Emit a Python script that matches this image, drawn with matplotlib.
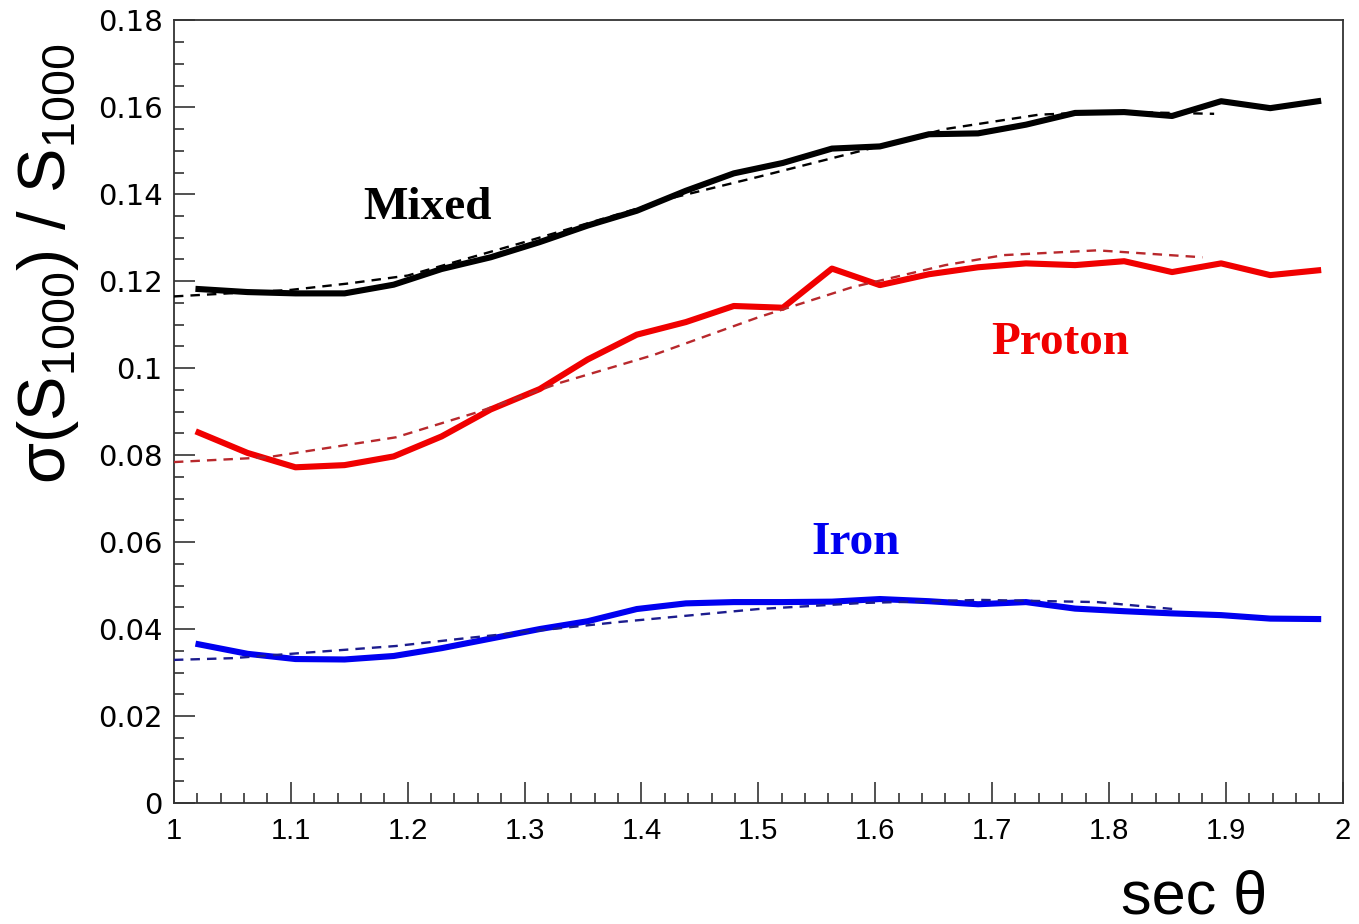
import matplotlib
matplotlib.use('Agg')
import matplotlib.pyplot as plt
from matplotlib.ticker import MultipleLocator

plt.rcParams['font.family'] = ['Liberation Sans', 'DejaVu Sans']
plt.rcParams['mathtext.fontset'] = 'custom'
plt.rcParams['mathtext.rm'] = 'Liberation Sans'
plt.rcParams['mathtext.it'] = 'Liberation Sans'
plt.rcParams['mathtext.default'] = 'regular'

# bin centres in sec(theta), 24 bins between 1 and 2
sec_bins = [1.021, 1.063, 1.104, 1.146, 1.188, 1.229, 1.271, 1.313,
            1.354, 1.396, 1.438, 1.479, 1.521, 1.563, 1.604, 1.646,
            1.688, 1.729, 1.771, 1.813, 1.854, 1.896, 1.938, 1.979]

mixed = [0.1182, 0.1175, 0.1172, 0.1172, 0.1192, 0.1228, 0.1255, 0.1290,
         0.1328, 0.1362, 0.1408, 0.1448, 0.1472, 0.1505, 0.1510, 0.1538,
         0.1540, 0.1560, 0.1587, 0.1589, 0.1580, 0.1614, 0.1598, 0.1614]

proton = [0.0852, 0.0805, 0.0772, 0.0777, 0.0797, 0.0843, 0.0905, 0.0952,
          0.1020, 0.1077, 0.1106, 0.1143, 0.1139, 0.1229, 0.1191, 0.1216,
          0.1232, 0.1241, 0.1237, 0.1246, 0.1221, 0.1241, 0.1214, 0.1225]

iron = [0.0365, 0.0343, 0.0331, 0.0330, 0.0338, 0.0356, 0.0378, 0.0400,
        0.0418, 0.0446, 0.0459, 0.0462, 0.0462, 0.0463, 0.0469, 0.0464,
        0.0457, 0.0462, 0.0447, 0.0441, 0.0436, 0.0432, 0.0424, 0.0423]

# fitted trend curves (dashed)
mixed_fit_x = [1.00, 1.10, 1.15, 1.20, 1.30, 1.40, 1.43, 1.50, 1.60, 1.66, 1.74, 1.80, 1.89]
mixed_fit_y = [0.1165, 0.1180, 0.1195, 0.1213, 0.1290, 0.1370, 0.1394, 0.1440,
               0.1508, 0.1550, 0.1583, 0.1590, 0.1585]

proton_fit_x = [1.00, 1.08, 1.19, 1.26, 1.33, 1.41, 1.50, 1.58, 1.66, 1.71, 1.79, 1.88]
proton_fit_y = [0.0784, 0.0795, 0.0841, 0.0899, 0.0966, 0.1030, 0.1117, 0.1186,
                0.1237, 0.1260, 0.1271, 0.1255]

iron_fit_x = [1.00, 1.05, 1.19, 1.25, 1.38, 1.50, 1.59, 1.69, 1.79, 1.855]
iron_fit_y = [0.0329, 0.0333, 0.0361, 0.0379, 0.0416, 0.0446, 0.0460, 0.0467,
              0.0462, 0.0446]

fig = plt.figure(figsize=(13.59, 9.24), dpi=100, facecolor='white')
ax = fig.add_axes([0.128, 0.131, 0.860, 0.847])

dash = (0, (4, 3))
ax.plot(mixed_fit_x, mixed_fit_y, color='black', lw=1.7, ls=dash, zorder=3)
ax.plot(proton_fit_x, proton_fit_y, color='#b8282c', lw=1.7, ls=dash, zorder=3)
ax.plot(iron_fit_x, iron_fit_y, color='#1c1c8e', lw=1.7, ls=dash, zorder=3)

ax.plot(sec_bins, mixed, color='black', lw=4.4, zorder=2)
ax.plot(sec_bins, proton, color='#f00000', lw=4.4, zorder=2)
ax.plot(sec_bins, iron, color='#0000f0', lw=4.4, zorder=2)

serif = ['Liberation Serif', 'DejaVu Serif']
ax.text(1.217, 0.1368, 'Mixed', color='black', fontsize=34, fontweight='bold',
        family=serif, ha='center', va='center')
ax.text(1.758, 0.1057, 'Proton', color='#f00000', fontsize=34, fontweight='bold',
        family=serif, ha='center', va='center')
ax.text(1.583, 0.0598, 'Iron', color='#0000f0', fontsize=34, fontweight='bold',
        family=serif, ha='center', va='center')

ax.set_xlim(1, 2)
ax.set_ylim(0, 0.18)
ax.xaxis.set_minor_locator(MultipleLocator(0.02))
ax.yaxis.set_minor_locator(MultipleLocator(0.005))
ax.set_xticks([1 + 0.1 * i for i in range(11)])
ax.set_xticklabels(['1', '1.1', '1.2', '1.3', '1.4', '1.5', '1.6', '1.7', '1.8', '1.9', '2'])
ax.set_yticks([0.02 * i for i in range(10)])
ax.set_yticklabels(['0', '0.02', '0.04', '0.06', '0.08', '0.1', '0.12', '0.14', '0.16', '0.18'])

ax.tick_params(which='both', direction='in', top=False, right=False, width=1.2, color='#333333')
ax.tick_params(which='major', length=15)
ax.tick_params(which='minor', length=7)
ax.tick_params(axis='x', labelsize=21, pad=10)
ax.tick_params(axis='y', labelsize=21, pad=8)
for lab in ax.get_yticklabels():
    lab.set_family(['DejaVu Sans'])
for sp in ax.spines.values():
    sp.set_linewidth(1.3)
    sp.set_color('#333333')

fig.text(0.035, 0.715, 'σ(S$_{1000}$) / S$_{1000}$', rotation=90, fontsize=48,
         ha='center', va='center')
fig.text(0.879, 0.028, 'sec θ', fontsize=44, ha='center', va='center')

fig.savefig('out.png', dpi=100, facecolor='white')
